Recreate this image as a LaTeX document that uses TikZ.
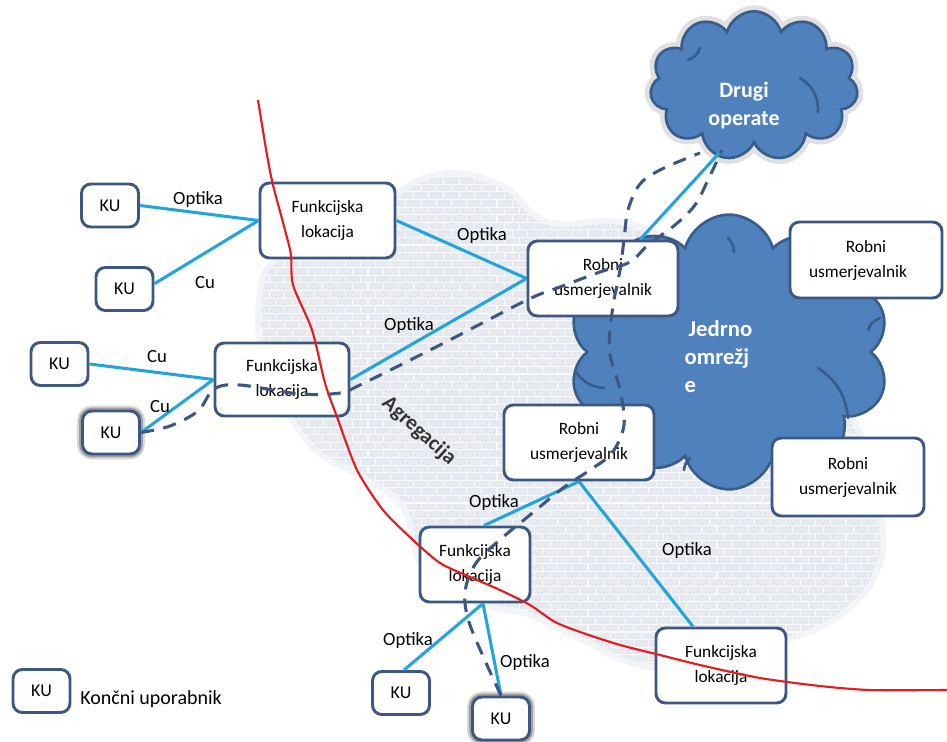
\documentclass[tikz,border=0pt]{standalone}
\usepackage{fontspec}
\setmainfont{Carlito}
\usetikzlibrary{shapes.symbols,patterns,calc}
\definecolor{boxc}{RGB}{60,88,130}
\definecolor{linkc}{RGB}{35,165,220}
\definecolor{cloudf}{RGB}{79,129,189}
\definecolor{cloudd}{RGB}{56,93,138}
\definecolor{redl}{RGB}{228,28,30}
\definecolor{blobc}{RGB}{230,234,240}
\begin{document}
\begin{tikzpicture}[x=0.75pt,y=-0.75pt,
  box/.style={draw=boxc, line width=2.2pt, rounded corners=7pt, fill=white, align=center, inner sep=0pt, font=\fontsize{13}{18.75}\selectfont},
  ku/.style={box, minimum width=42.75pt, minimum height=32.25pt, font=\fontsize{13.5}{16}\selectfont},
  kuglow/.style={preaction={draw=black!70, line width=8pt, draw opacity=0.22}, preaction={draw=black!70, line width=5pt, draw opacity=0.4}},
  link/.style={draw=linkc, line width=2.3pt},
  dashl/.style={draw=boxc, line width=2.3pt, dash pattern=on 10pt off 7pt},
  lab/.style={font=\fontsize{14}{16}\selectfont, inner sep=1pt},
  cloudn/.style={cloud, draw=cloudd, line width=2pt, fill=cloudf, cloud ignores aspect, inner sep=0pt},
  inarc/.style={draw=cloudd, line width=2pt, line cap=round},
  ctext/.style={text=white, font=\bfseries\fontsize{16.5}{21}\selectfont, align=center}
]
\useasboundingbox (0,0) rectangle (947,742);
% aggregation area
\path[save path=\blobsp] plot[smooth cycle, tension=0.7] coordinates {(262,300) (278,262) (330,250) (385,205) (440,177) (500,188) (548,225) (640,230) (760,300) (850,420) (878,520) (872,575) (835,615) (780,640) (710,665) (640,662) (585,638) (530,612) (470,598) (425,565) (405,505) (365,475) (310,440) (268,360)};
\draw[use path=\blobsp, draw=blobc, line width=9pt, draw opacity=0.5];
\fill[use path=\blobsp, blobc];
\fill[use path=\blobsp, pattern=bricks, pattern color=white!100, opacity=0.8];
% clouds
\node[cloudn, cloud puffs=11, minimum width=156pt, minimum height=112pt,
  preaction={draw=black!60, line width=9pt, draw opacity=0.2}] (DO) at (754,86) {};
\draw[inarc] (800,78) to[bend left=30] (818,112);
\draw[inarc] (688,60) to[bend right=25] (700,48);
\node[ctext] (DOt) at (744,106) {Drugi\\operate};
\node[cloudn, cloud puffs=10, minimum width=241pt, minimum height=206pt] (JO) at (729,352) {};
\draw[inarc] (728,238) to[bend left=20] (734,252);
\draw[inarc] (868,330) to[bend left=25] (880,318);
\draw[inarc] (818,368) to[bend left=25] (848,418);
\draw[inarc] (576,372) to[bend right=25] (604,388);
\draw[inarc] (684,470) to[bend left=20] (690,458);
\node[ctext, font=\bfseries\fontsize{17}{21}\selectfont, align=left, anchor=north west] (JOt) at (680,316) {\hspace*{3pt}Jedrno\\omrežj\\e};
\coordinate (DOb) at (722,150);
\coordinate (DOc) at (700,153);
% boxes
\node[box, minimum width=101.25pt, minimum height=56.25pt] (F1) at (327.5,220.5) {Funkcijska\\lokacija};
\node[box, minimum width=100.5pt, minimum height=54.75pt] (F2) at (282,379.5) {Funkcijska\\lokacija};
\node[box, minimum width=82.5pt, minimum height=56.25pt] (F3) at (475,564.5) {Funkcijska\\lokacija};
\node[box, minimum width=97.5pt, minimum height=56.25pt] (F4) at (721,665.5) {Funkcijska\\lokacija};
\node[box, minimum width=112.5pt, minimum height=56.25pt] (R1) at (603,278.5) {Robni\\usmerjevalnik};
\node[box, minimum width=114pt, minimum height=57pt] (R2) at (866,260) {Robni\\usmerjevalnik\hspace*{12pt}};
\node[box, minimum width=112.5pt, minimum height=56.25pt] (R3) at (579,442.5) {Robni\\usmerjevalnik};
\node[box, minimum width=114pt, minimum height=58.5pt] (R4) at (848,477) {Robni\\usmerjevalnik};
\node[ku] (KU1) at (110,205.5) {KU};
\node[ku] (KU2) at (124.5,289) {KU};
\node[ku] (KU3) at (59.5,364) {KU};
\node[ku, kuglow] (KU4) at (111,432.5) {KU};
\node[ku] (KU5) at (401,693) {KU};
\node[ku, kuglow] (KU6) at (501,718.5) {KU};
\node[ku] (KUL) at (41.5,691) {KU};
\node[anchor=west, font=\fontsize{15}{18}\selectfont, inner sep=0pt] (LEG) at (80,699) {Končni uporabnik};
% links
\draw[link] (KU1.east) -- (F1.west);
\draw[link] (KU2.10) -- (F1.west);
\draw[link] (F1.east) -- (R1.west);
\draw[link] (F2.east) -- (R1.west);
\draw[link] (KU3.east) -- (F2.west);
\draw[link] (KU4.east) -- (F2.west);
\draw[link] ($(R1.north)+(37,0)$) -- (DOb);
\draw[link] (R3.south) -- ($(F3.north)+(9,0)$);
\draw[link] (R3.south) -- ($(F4.north)+(-28,0)$);
\draw[link] ($(F3.south)+(8,0)$) -- ($(KU5.north)+(3,0)$);
\draw[link] ($(F3.south)+(8,0)$) -- (KU6.north);
% dashed paths
\draw[dashl] plot[smooth, tension=0.55] coordinates {(KU4.east) (170,426) (198,411) (214,389) (240,385) (300,394) (340,393) (360,385) (440,345) (527,300) (560,287) (600,272) (630,262) (648,245) (675,225) (695,205) (708,180) (DOb)};
\draw[dashl] plot[smooth, tension=0.55] coordinates {(KU6.north) (487,665) (469,622) (465,592) (476,563) (502,538) (530,515) (563,488) (590,470) (612,453) (624,425) (620,390) (610,355) (610,330) (614,300) (620,270) (624,240) (628,210) (640,184) (662,169) (DOc)};
% red boundary
\draw[redl, line width=1.6pt] plot[smooth, tension=0.45] coordinates {(258,100) (267,155) (273,185) (285,230) (291,255) (293,285) (312,330) (325,383) (337,417) (357,470) (383,510) (413,540) (440,563) (470,577) (500,590) (530,605) (555,622) (583,633) (620,645) (660,655) (700,665) (760,678) (820,686) (870,690) (947,690)};
% labels
\node[lab] (l1) at (198,200) {Optika};
\node[lab] (l2) at (205,283) {Cu};
\node[lab] (l3) at (482,236) {Optika};
\node[lab] (l4) at (409,326) {Optika};
\node[lab] (l5) at (157,357) {Cu};
\node[lab] (l6) at (160,407) {Cu};
\node[lab] (l7) at (494,503) {Optika};
\node[lab] (l8) at (687,551) {Optika};
\node[lab] (l9) at (408,641) {Optika};
\node[lab] (l10) at (525,663) {Optika};
\node[font=\bfseries\fontsize{16}{18}\selectfont, text=black!80, rotate=-42] (AG) at (419,431) {Agregacija};
\end{tikzpicture}
\end{document}
